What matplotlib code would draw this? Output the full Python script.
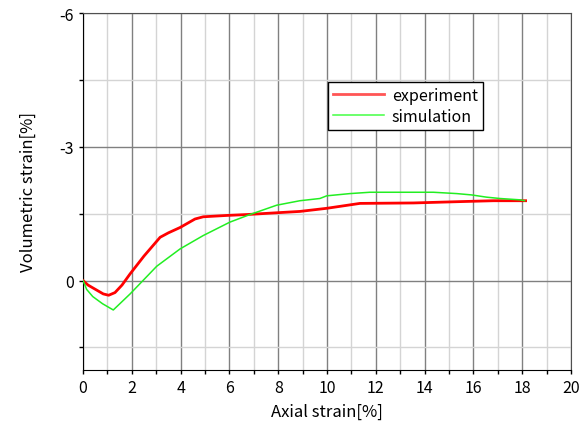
import matplotlib
matplotlib.use('Agg')
import matplotlib.pyplot as plt
from matplotlib.ticker import MultipleLocator

plt.rcParams['font.family'] = ['Noto Sans CJK JP', 'DejaVu Sans']
plt.rcParams['axes.unicode_minus'] = False

# experiment (axial strain %, volumetric strain %)
exp_x = [0.0, 0.2, 0.42, 0.83, 1.05, 1.31, 1.6, 1.93, 2.5, 3.16, 3.5, 3.98, 4.59,
         4.93, 5.89, 6.71, 7.94, 8.89, 9.99, 11.35, 13.54, 15.45, 16.82, 18.14]
exp_y = [0.0, 0.1, 0.17, 0.3, 0.33, 0.27, 0.1, -0.15, -0.55, -0.97, -1.07, -1.19, -1.38,
         -1.43, -1.46, -1.48, -1.52, -1.55, -1.62, -1.73, -1.74, -1.77, -1.79, -1.79]

# simulation
sim_x = [0.0, 0.15, 0.4, 0.8, 1.24, 1.93, 3.02, 3.98, 4.93, 6.02, 6.84, 7.94, 8.89,
         9.71, 9.99, 10.94, 11.76, 14.36, 15.32, 15.93, 16.54, 17.09, 17.91, 18.1]
sim_y = [0.0, 0.2, 0.36, 0.52, 0.66, 0.3, -0.32, -0.71, -1.01, -1.31, -1.48, -1.69, -1.79,
         -1.84, -1.9, -1.95, -1.98, -1.98, -1.95, -1.92, -1.87, -1.84, -1.81, -1.79]

fig = plt.figure(figsize=(5.88, 4.27), dpi=100)
ax = fig.add_axes([0.1412, 0.1318, 0.8298, 0.8354])

ax.plot(exp_x, exp_y, color='#ff0000', lw=2, label='experiment', zorder=3)
ax.plot(sim_x, sim_y, color='#22ee22', lw=1.1, label='simulation', zorder=3)

ax.set_xlim(0, 20)
ax.set_ylim(2, -6)
ax.xaxis.set_major_locator(MultipleLocator(2))
ax.xaxis.set_minor_locator(MultipleLocator(1))
ax.yaxis.set_major_locator(MultipleLocator(3))
ax.yaxis.set_minor_locator(MultipleLocator(1.5))

ax.grid(which='major', color='#808080', lw=1)
ax.grid(which='minor', color='#d4d4d4', lw=1)
ax.set_axisbelow(True)

ax.tick_params(which='both', direction='out', length=3, width=1, labelsize=11.5, colors='black')
for s in ['top', 'right']:
    ax.spines[s].set_color('#505050')
for s in ['left', 'bottom']:
    ax.spines[s].set_color('black')

ax.set_xlabel('Axial strain[%]', fontsize=12, labelpad=5)
ax.set_ylabel('Volumetric strain[%]', fontsize=12, labelpad=16)

leg = ax.legend(loc='upper left', bbox_to_anchor=(0.502, 0.806), fontsize=11.5,
                frameon=True, fancybox=False, edgecolor='black', framealpha=1,
                handlelength=3.2, handletextpad=0.5, borderpad=0.3,
                labelspacing=0.25, borderaxespad=0)
leg.get_frame().set_linewidth(1)
leg.get_lines()[0].set_color('#ff5555')
leg.get_lines()[1].set_color('#44ff44')

fig.savefig('out.png', dpi=100)
